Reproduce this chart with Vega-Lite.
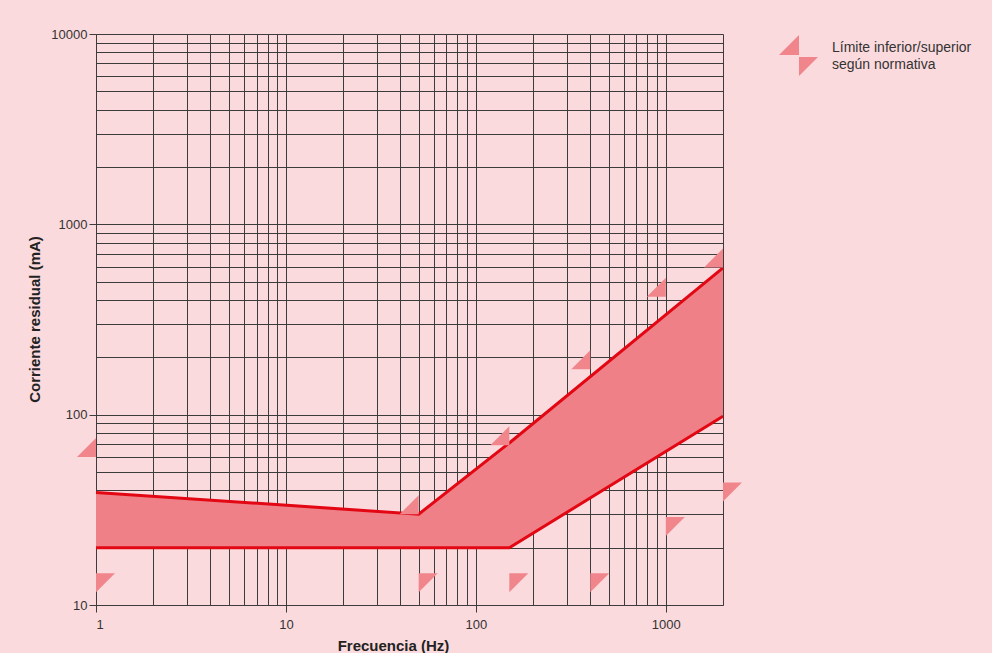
{
  "$schema": "https://vega.github.io/schema/vega-lite/v6.json",
  "width": 627,
  "height": 571,
  "autosize": "none",
  "padding": {"left": 96, "top": 34, "right": 269, "bottom": 48},
  "background": "#fbdadd",
  "view": {"stroke": null},
  "config": {
    "font": "Liberation Sans",
    "axis": {
      "labelOverlap": false,
      "labelFontSize": 13,
      "labelColor": "#333333",
      "tickSize": 7,
      "tickColor": "#3c3c3c",
      "grid": true,
      "gridColor": "#3c3c3c",
      "gridOpacity": 1,
      "gridWidth": 1,
      "domainColor": "#3c3c3c",
      "zindex": 1,
      "titleFontSize": 15,
      "titleFontWeight": "bold",
      "titleColor": "#222222"
    }
  },
  "datasets": {
    "band": [
      {"f": 1, "lo": 20, "hi": 39},
      {"f": 50, "lo": 20, "hi": 30},
      {"f": 150, "lo": 20, "hi": 71},
      {"f": 2000, "lo": 98, "hi": 590}
    ],
    "marks": [
      {"f": 1, "v": 60, "t": "sup", "k": "norma"},
      {"f": 50, "v": 30, "t": "sup", "k": "norma"},
      {"f": 150, "v": 69, "t": "sup", "k": "norma"},
      {"f": 400, "v": 173, "t": "sup", "k": "norma"},
      {"f": 1000, "v": 416, "t": "sup", "k": "norma"},
      {"f": 2000, "v": 594, "t": "sup", "k": "norma"},
      {"f": 1, "v": 14.7, "t": "inf", "k": "norma"},
      {"f": 50, "v": 14.7, "t": "inf", "k": "norma"},
      {"f": 150, "v": 14.7, "t": "inf", "k": "norma"},
      {"f": 400, "v": 14.7, "t": "inf", "k": "norma"},
      {"f": 1000, "v": 29, "t": "inf", "k": "norma"},
      {"f": 2000, "v": 44, "t": "inf", "k": "norma"}
    ]
  },
  "encoding": {
    "x": {
      "field": "f", "type": "quantitative",
      "scale": {"type": "log", "domain": [1, 2000], "nice": false},
      "axis": {
        "title": "Frecuencia (Hz)",
        "values": [1,2,3,4,5,6,7,8,9,10,20,30,40,50,60,70,80,90,100,200,300,400,500,600,700,800,900,1000,2000],
        "labelExpr": "(datum.value == 1 || datum.value == 10 || datum.value == 100 || datum.value == 1000) ? format(datum.value, 'd') : ''",
        "labelPadding": 6,
        "tickOpacity": {"condition": {"test": "datum.value == 1 || datum.value == 10 || datum.value == 100 || datum.value == 1000", "value": 1}, "value": 0},
        "titleX": 297,
        "titleY": 45,
        "titleAlign": "center",
        "titleBaseline": "alphabetic"
      }
    }
  },
  "layer": [
    {
      "data": {"name": "band"},
      "mark": {"type": "area", "color": "#ef8087", "opacity": 1},
      "encoding": {
        "y": {
          "field": "lo", "type": "quantitative",
          "scale": {"type": "log", "domain": [10, 10000], "nice": false},
          "axis": {
            "title": "Corriente residual (mA)",
            "values": [10,20,30,40,50,60,70,80,90,100,200,300,400,500,600,700,800,900,1000,2000,3000,4000,5000,6000,7000,8000,9000,10000],
            "labelExpr": "(datum.value == 10 || datum.value == 100 || datum.value == 1000 || datum.value == 10000) ? format(datum.value, 'd') : ''",
            "labelPadding": 2,
            "tickOpacity": {"condition": {"test": "datum.value == 10 || datum.value == 100 || datum.value == 1000 || datum.value == 10000", "value": 1}, "value": 0},
            "titleX": -62,
            "titleY": 285,
            "titleAngle": -90,
            "titleAlign": "center",
            "titleBaseline": "middle"
          }
        },
        "y2": {"field": "hi"}
      }
    },
    {
      "data": {"name": "band"},
      "mark": {"type": "line", "color": "#e30613", "strokeWidth": 3},
      "encoding": {
        "y": {"field": "lo", "type": "quantitative", "title": "Corriente residual (mA)"}
      }
    },
    {
      "data": {"name": "band"},
      "mark": {"type": "line", "color": "#e30613", "strokeWidth": 3},
      "encoding": {
        "y": {"field": "hi", "type": "quantitative", "title": "Corriente residual (mA)"}
      }
    },
    {
      "data": {"name": "marks"},
      "mark": {"type": "point", "filled": true, "opacity": 1, "size": 361, "strokeWidth": 0},
      "encoding": {
        "y": {"field": "v", "type": "quantitative", "title": "Corriente residual (mA)"},
        "shape": {
          "field": "t", "type": "nominal",
          "scale": {"domain": ["sup", "inf"], "range": ["M0,0L-2,0L0,-2Z", "M0,0L2,0L0,2Z"]},
          "legend": null
        },
        "color": {
          "field": "k", "type": "nominal",
          "scale": {"domain": ["norma"], "range": ["#f0868c"]},
          "legend": {
            "orient": "none",
            "legendX": 683,
            "legendY": 2,
            "title": null,
            "padding": 0,
            "symbolType": "M-1,-0.05L0,-0.05L0,-1.05Z M0,0.05L0.95,0.05L0,1Z",
            "symbolSize": 1600,
            "symbolOpacity": 1,
            "symbolStrokeWidth": 0,
            "labelFontSize": 14,
            "labelColor": "#333333",
            "labelOffset": 13,
            "labelLimit": 300,
            "labelExpr": "['Límite inferior/superior', 'según normativa']",
            "encode": {"labels": {"update": {"lineHeight": {"value": 17}, "dy": {"value": -8.5}}}}
          }
        }
      }
    }
  ]
}
